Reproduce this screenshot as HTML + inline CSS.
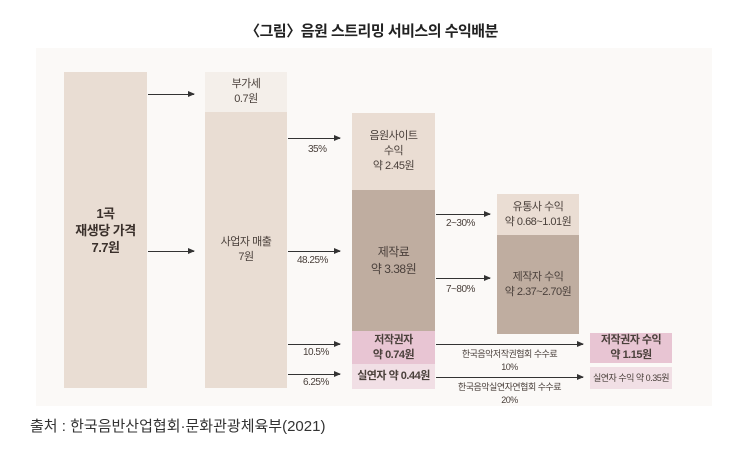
<!DOCTYPE html>
<html><head><meta charset="utf-8"><style>
body{margin:0;width:743px;height:449px;background:#fff;position:relative;overflow:hidden;font-family:"Liberation Sans","Noto Sans CJK KR",sans-serif;color:#3a3330}
.a{position:absolute}
.b{position:absolute;display:flex;flex-direction:column;align-items:center;justify-content:center;text-align:center;font-size:11px;line-height:15px;color:#4a403b;letter-spacing:-0.5px}
.ar{position:absolute;height:1px;background:#333}
.ar:after{content:"";position:absolute;right:-1px;top:-3px;border-left:7px solid #333;border-top:3.5px solid transparent;border-bottom:3.5px solid transparent}
.t{position:absolute;font-size:10px;color:#4a403b;letter-spacing:-0.5px}
</style></head><body>
<div class="a" style="left:0;top:20px;width:743px;text-align:center;font-size:15px;font-weight:bold;color:#222;letter-spacing:-0.5px">〈그림〉음원 스트리밍 서비스의 수익배분</div>
<div class="a" style="left:36px;top:48px;width:676px;height:358px;background:#fbf9f7"></div>
<div class="b" style="left:64px;top:72px;width:83px;height:316px;background:#e9ddd3;font-weight:bold;font-size:13px;line-height:17px;color:#3a302b">1곡<br>재생당 가격<br>7.7원</div>
<div class="b" style="left:205px;top:72px;width:82px;height:40px;background:#f4efea">부가세<br>0.7원</div>
<div class="b" style="left:205px;top:112px;width:82px;height:276px;background:#e9ddd3">사업자 매출<br>7원</div>
<div class="b" style="left:352px;top:113px;width:83px;height:77px;background:#eaddd3">음원사이트<br>수익<br>약 2.45원</div>
<div class="b" style="left:352px;top:190px;width:83px;height:141px;background:#bfada0;font-size:12px;line-height:17px">제작료<br>약 3.38원</div>
<div class="b" style="left:352px;top:331px;width:83px;height:33px;background:#e8c5d3;font-weight:bold">저작권자<br>약 0.74원</div>
<div class="b" style="left:352px;top:364px;width:83px;height:25px;background:#f1dfe5;font-weight:bold">실연자 약 0.44원</div>
<div class="b" style="left:497px;top:194px;width:82px;height:41px;background:#eaddd3">유통사 수익<br>약 0.68~1.01원</div>
<div class="b" style="left:497px;top:235px;width:82px;height:99px;background:#bfada0">제작자 수익<br>약 2.37~2.70원</div>
<div class="b" style="left:590px;top:333px;width:82px;height:30px;background:#e8c5d3;font-weight:bold">저작권자 수익<br>약 1.15원</div>
<div class="b" style="left:590px;top:367px;width:82px;height:22px;background:#f1dfe5;font-size:9px">실연자 수익 약 0.35원</div>
<div class="ar" style="left:148px;top:94px;width:46px"></div>
<div class="ar" style="left:148px;top:251px;width:46px"></div>
<div class="ar" style="left:288px;top:138px;width:52px"></div>
<div class="ar" style="left:288px;top:251px;width:52px"></div>
<div class="ar" style="left:288px;top:344px;width:52px"></div>
<div class="ar" style="left:288px;top:374px;width:52px"></div>
<div class="ar" style="left:436px;top:214px;width:54px"></div>
<div class="ar" style="left:436px;top:278px;width:54px"></div>
<div class="ar" style="left:436px;top:344px;width:147px"></div>
<div class="ar" style="left:436px;top:377px;width:147px"></div>
<div class="t" style="left:308px;top:144px">35%</div>
<div class="t" style="left:297px;top:255px">48.25%</div>
<div class="t" style="left:303px;top:347px">10.5%</div>
<div class="t" style="left:303px;top:377px">6.25%</div>
<div class="t" style="left:446px;top:218px">2~30%</div>
<div class="t" style="left:446px;top:284px">7~80%</div>
<div class="t" style="left:436px;top:348px;width:147px;text-align:center;font-size:9px;line-height:13px">한국음악저작권협회 수수료<br>10%</div>
<div class="t" style="left:436px;top:381px;width:147px;text-align:center;font-size:9px;line-height:13px">한국음악실연자연협회 수수료<br>20%</div>
<div class="a" style="left:30px;top:415px;font-size:15px;color:#333">출처 : 한국음반산업협회·문화관광체육부(2021)</div>
</body></html>
